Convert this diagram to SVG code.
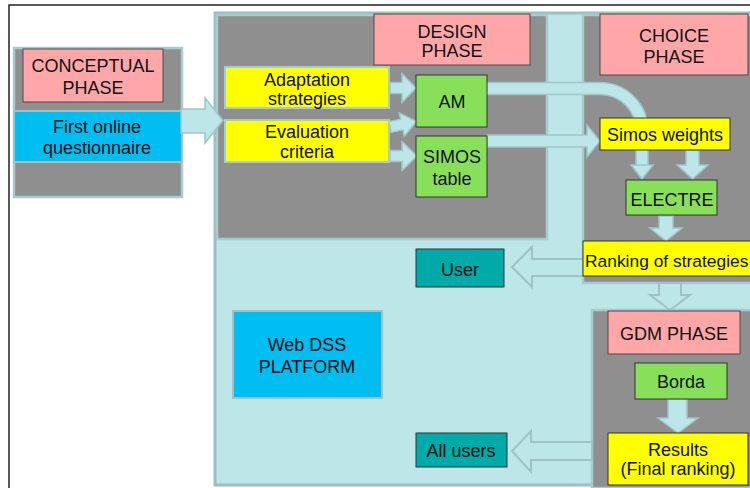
<svg xmlns="http://www.w3.org/2000/svg" width="750" height="488" viewBox="0 0 750 488">
<style>
text{font-family:"Liberation Sans",Arial,sans-serif;font-size:18px;fill:#111;text-anchor:middle}
.panel{fill:#8f8f8f;stroke:#a6cccf;stroke-width:2.5}
.pink{fill:#ffa6a8;stroke:#4a4a4a;stroke-width:1}
.yel{fill:#ffff00;stroke:#a6cccf;stroke-width:2}
.yeld{fill:#ffff00;stroke:#333;stroke-width:1}
.grn{fill:#88e05a;stroke:#333;stroke-width:1}
.teal{fill:#00aaa8;stroke:#333;stroke-width:1}
.blue{fill:#00bef2;stroke:#9dc3c6;stroke-width:2}
.arr{fill:#bde6e8;stroke:#9fc6c9;stroke-width:1.5;stroke-linejoin:miter}
.hol{fill:#bde6e8;stroke:#9ec2c5;stroke-width:2}
</style>
<rect width="750" height="488" fill="#fff"/>
<rect x="9" y="5" width="760" height="500" fill="none" stroke="#222" stroke-width="1.5"/>

<g id="platform">
<rect x="215" y="13" width="545" height="472" fill="#bde6e8" stroke="#9dbfc2" stroke-width="3"/>
</g>
<g id="design-panel"><rect class="panel" x="217" y="15" width="330" height="224"/></g>
<g id="choice-panel"><rect class="panel" x="583" y="15" width="172" height="268"/></g>
<g id="gdm-panel"><rect class="panel" x="592" y="310" width="165" height="178"/></g>

<g id="conceptual-panel">
<rect class="panel" x="14" y="48" width="168" height="149"/>
</g>
<g id="conceptual-phase">
<rect class="pink" x="23" y="49" width="140" height="53"/>
<text x="93" y="72">CONCEPTUAL</text>
<text x="93" y="94">PHASE</text>
</g>
<g id="questionnaire">
<rect class="blue" x="14" y="111" width="168" height="51"/>
<text x="97" y="133">First online</text>
<text x="97" y="154">questionnaire</text>
</g>

<g id="connectors">
<polygon class="arr" points="181,109 205,109 205,98 223,120.5 205,143 205,133 181,133"/>
<polygon class="arr" transform="translate(390,88)" points="0,-5.5 12,-5.5 12,-14.5 26,0 12,14.5 12,5.5 0,5.5"/>
<polygon class="arr" transform="translate(390,127) rotate(-12)" points="0,-5.5 12,-5.5 12,-12 27,0 12,12 12,5.5 0,5.5"/>
<polygon class="arr" transform="translate(390,156)" points="0,-5.5 12,-5.5 12,-14.5 27,0 12,14.5 12,5.5 0,5.5"/>
<path d="M487,88.5 H600 A42,42 0 0 1 642,130.5 V166" fill="none" stroke="#9fc6c9" stroke-width="13.5"/>
<path d="M486,88.5 H600 A42,42 0 0 1 642,130.5 V167" fill="none" stroke="#bde6e8" stroke-width="10.5"/>
<polygon class="arr" points="631,165 653,165 642,179"/>
<polygon class="arr" points="487,135 587,135 587,125 600,141 587,157 587,147 487,147"/>
<polygon class="arr" points="686,150 699,150 699,165 708,165 692.5,179 677,165 686,165"/>
<polygon class="arr" points="659,216 673,216 673,228 682,228 666,241 650,228 659,228"/>
<polygon class="arr" points="668,399 687,399 687,418 698,418 678,433 658,418 668,418"/>
<polygon class="hol" points="583,259 532,259 532,247 512,267 532,287 532,276 583,276"/>
<polygon class="hol" points="592,442 531,442 531,431 512,451 531,472 531,460 592,460"/>
<polygon class="hol" points="659,283 659,295 650,295 670,310 690,295 681,295 681,283"/>
</g>

<g id="design-phase">
<rect class="pink" x="374" y="14" width="156" height="51"/>
<text x="452" y="38">DESIGN</text>
<text x="452" y="57">PHASE</text>
</g>
<g id="choice-phase">
<rect class="pink" x="600" y="14" width="148" height="61"/>
<text x="674" y="42">CHOICE</text>
<text x="674" y="63">PHASE</text>
</g>
<g id="adaptation">
<rect class="yel" x="225" y="67" width="164" height="41"/>
<text x="307" y="86">Adaptation</text>
<text x="307" y="105">strategies</text>
</g>
<g id="evaluation">
<rect class="yel" x="225" y="120" width="164" height="42"/>
<text x="307" y="138">Evaluation</text>
<text x="307" y="158">criteria</text>
</g>
<g id="am">
<rect class="grn" x="416" y="75" width="71" height="52"/>
<text x="452" y="108">AM</text>
</g>
<g id="simos-table">
<rect class="grn" x="416" y="136" width="71" height="61"/>
<text x="452" y="163">SIMOS</text>
<text x="452" y="185">table</text>
</g>
<g id="simos-weights">
<rect class="yeld" x="600" y="118" width="130" height="32"/>
<text x="665" y="141">Simos weights</text>
</g>
<g id="electre">
<rect class="grn" x="626" y="180" width="91" height="35"/>
<text x="672" y="206">ELECTRE</text>
</g>
<g id="ranking">
<rect class="yeld" x="583" y="241" width="172" height="35"/>
<text x="585" y="267" style="text-anchor:start;font-size:17.4px">Ranking of strategies</text>
</g>
<g id="user">
<rect class="teal" x="416" y="249" width="88" height="38"/>
<text x="460" y="276">User</text>
</g>
<g id="web-dss">
<rect class="blue" x="233" y="311" width="149" height="87"/>
<text x="307" y="351">Web DSS</text>
<text x="307" y="373">PLATFORM</text>
</g>
<g id="gdm-phase">
<rect class="pink" x="608" y="311" width="132" height="43"/>
<text x="674" y="340">GDM PHASE</text>
</g>
<g id="borda">
<rect class="grn" x="635" y="363" width="92" height="36"/>
<text x="681" y="388">Borda</text>
</g>
<g id="results">
<rect class="yeld" x="608" y="433" width="140" height="52"/>
<text x="678" y="456">Results</text>
<text x="678" y="475">(Final ranking)</text>
</g>
<g id="all-users">
<rect class="teal" x="416" y="433" width="91" height="34"/>
<text x="461" y="457">All users</text>
</g>
</svg>
